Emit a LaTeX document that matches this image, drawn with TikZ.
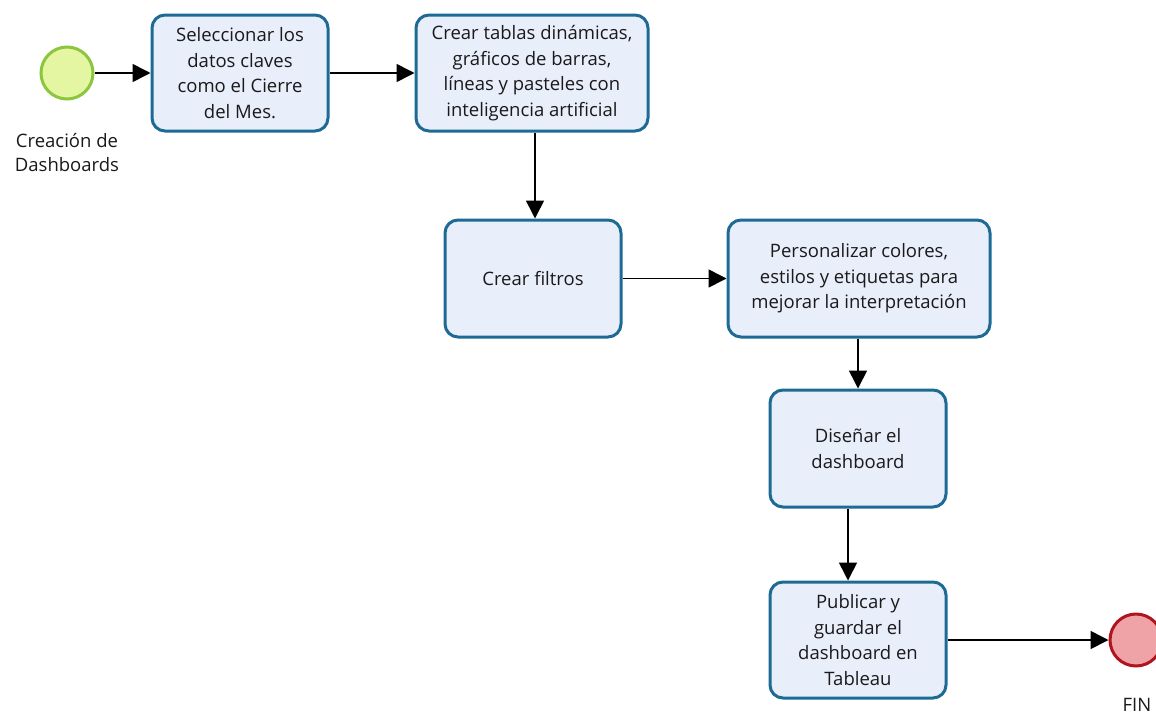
\documentclass[tikz,border=0pt]{standalone}
\usepackage{fontspec}
\setmainfont{Open Sans}
\usetikzlibrary{arrows.meta}
\definecolor{boxdraw}{HTML}{1D6A94}
\definecolor{boxfill}{HTML}{E9EEFB}
\definecolor{startdraw}{HTML}{8CC63F}
\definecolor{startfill}{HTML}{E4F6A2}
\definecolor{enddraw}{HTML}{B0141C}
\definecolor{endfill}{HTML}{EFA3A6}
\definecolor{txt}{HTML}{1A1A1A}
\tikzset{
  task/.style={draw=boxdraw, fill=boxfill, line width=3pt, rounded corners=13pt,
    align=center, text=txt, inner sep=0pt,
    font=\fontsize{18.5}{25.5}\selectfont},
  flow/.style={line width=1.6pt, -{Triangle[length=18pt,width=18pt]}},
  lbl/.style={text=txt, align=center, font=\fontsize{18.5}{24}\selectfont}
}
\begin{document}
\begin{tikzpicture}[x=1pt,y=-1pt]
\useasboundingbox (0,0) rectangle (1156,715);
\fill[white] (0,0) rectangle (1156,715);
% start
\node[circle, draw=startdraw, fill=startfill, line width=3pt, minimum size=52pt, inner sep=0pt] (start) at (67,73) {};
\node[lbl] (startlbl) at (67,152) {Creación de\\Dashboards};
% tasks
\node[task, minimum width=176pt, minimum height=116pt] (b1) at (240,73) {Seleccionar los\\datos claves\\como el Cierre\\del Mes.};
\node[task, minimum width=232pt, minimum height=116pt] (b2) at (532,73) {Crear tablas dinámicas,\\gráficos de barras,\\líneas y pasteles con\\inteligencia artificial};
\node[task, minimum width=176pt, minimum height=117pt] (b3) at (533,278.5) {Crear filtros};
\node[task, minimum width=262pt, minimum height=117pt] (b4) at (859,278.5) {Personalizar colores,\\estilos y etiquetas para\\mejorar la interpretación};
\node[task, minimum width=176pt, minimum height=117pt] (b5) at (858,448.5) {Diseñar el\\dashboard};
\node[task, minimum width=176pt, minimum height=116pt] (b6) at (858,640) {Publicar y\\guardar el\\dashboard en\\Tableau};
% end
\node[circle, draw=enddraw, fill=endfill, line width=3pt, minimum size=52pt, inner sep=0pt] (end) at (1136,640) {};
\node[lbl] (endlbl) at (1137,705) {FIN};
% flows
\draw[flow] (start) -- (b1);
\draw[flow] (b1) -- (b2);
\draw[flow] ([xshift=3pt]b2.south) -- ([xshift=2pt]b3.north);
\draw[flow] (b3) -- (b4);
\draw[flow] ([xshift=-1pt]b4.south) -- (b5.north);
\draw[flow] ([xshift=-10pt]b5.south) -- ([xshift=-10pt]b6.north);
\draw[flow] (b6) -- (end);
\end{tikzpicture}
\end{document}
